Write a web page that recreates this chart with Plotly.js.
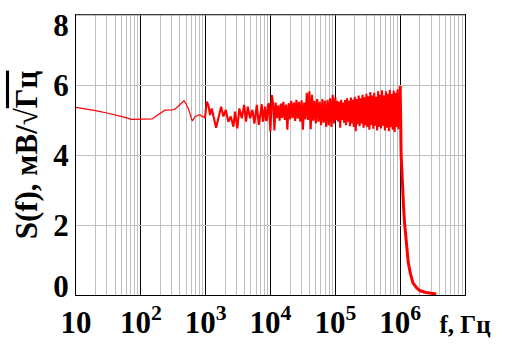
<!DOCTYPE html>
<html><head><meta charset="utf-8">
<script src="https://cdn.plot.ly/plotly-3.0.1.min.js"></script>
<style>html,body{margin:0;padding:0;background:#fff}</style>
</head><body><div id="chart" style="width:509px;height:348px"></div>
<script>
// smooth low-frequency part
const lowFreq = [10,15,20,30,40,55,72,100,150,175,200,235,300,330,370,420,464,500,540,580,623,690,750,816,870,915,975];
const lowVal  = [5.36,5.31,5.27,5.20,5.15,5.08,5.02,5.02,5.03,5.12,5.19,5.28,5.29,5.30,5.38,5.47,5.55,5.45,5.33,5.15,4.97,5.10,5.12,5.15,5.10,5.10,5.05];
// 1 kHz .. 10 kHz
const kFreq = [1040,1100,1170,1240,1350,1450,1570,1730,1880,2040,2240,2440,2680,2840,3080,3310,3610,3920,4200,4460,4840,5260,5650,6150,6600,7080,7350,7600,8000,8250,8500,8770,9100,9420,9700,9960];
const kVal  = [5.52,5.43,5.14,5.33,5.00,4.78,5.05,5.38,5.10,5.29,4.95,5.10,4.81,5.24,4.76,5.33,5.05,5.43,4.95,5.38,5.05,5.29,4.90,5.43,4.86,5.19,5.45,4.95,5.30,5.38,4.98,5.00,5.42,5.48,5.02,4.67];
// 10 kHz .. 100 kHz
const tenkFreq = [10.5e3,11.0e3,11.5e3,12.0e3,12.6e3,13.2e3,13.8e3,14.5e3,15.1e3,15.8e3,16.6e3,17.4e3,18.2e3,19.1e3,20.0e3,20.9e3,21.9e3,22.9e3,24.0e3,25.1e3,26.3e3,27.5e3,28.8e3,30.2e3,31.6e3,33.1e3,34.7e3,36.3e3,38.0e3,39.8e3,41.7e3,43.7e3,45.7e3,47.9e3,50.1e3,52.5e3,55.0e3,57.5e3,60.3e3,63.1e3,66.1e3,69.2e3,72.4e3,75.9e3,79.4e3,83.2e3,87.1e3,91.2e3,95.5e3,100e3];
const tenkVal  = [5.71,5.45,4.70,5.50,5.05,5.42,4.98,5.47,5.06,5.52,5.00,5.44,4.72,5.48,5.02,5.55,5.05,5.50,4.97,5.58,5.04,5.52,4.95,5.56,4.72,5.50,5.02,5.78,5.00,5.82,4.74,5.72,4.98,5.55,4.90,5.60,4.95,5.52,4.85,5.60,4.92,5.55,4.80,5.58,4.85,5.62,4.80,5.72,4.90,5.65];
// 100 kHz .. 1 MHz
const hkFreq = [103.5e3,107.2e3,110.9e3,114.8e3,118.9e3,123.0e3,127.4e3,131.8e3,136.5e3,141.3e3,146.2e3,151.4e3,156.7e3,162.2e3,167.9e3,173.8e3,179.9e3,186.2e3,192.8e3,199.5e3,206.5e3,213.8e3,221.3e3,229.1e3,237.1e3,245.5e3,254.1e3,263.0e3,272.3e3,281.8e3,291.7e3,302.0e3,312.6e3,323.6e3,335.0e3,346.7e3,358.9e3,371.5e3,384.6e3,398.1e3,412.1e3,426.6e3,441.6e3,457.1e3,473.2e3,489.8e3,507.0e3,524.8e3,543.3e3,562.3e3,582.1e3,602.6e3,623.8e3,645.7e3,668.3e3,691.8e3,716.1e3,741.3e3,767.4e3,794.3e3,822.2e3,851.1e3,881.0e3,912.0e3,944.1e3,977.2e3,1000e3];
const hkVal  = [5.00,5.55,4.95,5.52,4.78,5.58,5.00,5.50,4.92,5.57,4.85,5.62,4.95,5.55,4.82,5.64,4.90,5.58,4.80,5.66,4.68,5.60,4.88,5.70,4.82,5.62,4.90,5.72,4.78,5.65,4.85,5.75,4.80,5.68,4.72,5.80,4.86,5.70,4.75,5.78,4.84,5.66,4.70,5.82,4.80,5.72,4.76,5.85,4.84,5.70,4.70,5.82,4.78,5.75,4.68,5.86,4.80,5.74,4.72,5.84,4.66,5.78,4.80,5.88,4.74,5.80,5.97];
// roll-off above 1 MHz
const dropFreq = [1.01e6,1.02e6,1.035e6,1.06e6,1.08e6,1.13e6,1.17e6,1.24e6,1.33e6,1.43e6,1.58e6,1.8e6,2.03e6,2.5e6,2.9e6,3.6e6];
const dropVal  = [4.80,4.30,4.00,3.60,3.20,2.50,2.05,1.57,0.94,0.63,0.34,0.20,0.12,0.07,0.05,0.03];

const xTickVals = [10,100,1e3,1e4,1e5,1e6,1e7];
const xTickText = ['10','10<sup>2</sup>','10<sup>3</sup>','10<sup>4</sup>','10<sup>5</sup>','10<sup>6</sup>','<span style="font-size:25px">f, Гц</span>'];
const yLabelVals = [0.26,2,4,6,7.71];
const yLabelText = ['0','2','4','6','8'];

const noiseFreq = [lowFreq[lowFreq.length-1]].concat(kFreq, tenkFreq, hkFreq);
const noiseVal  = [lowVal[lowVal.length-1]].concat(kVal, tenkVal, hkVal);
const rollFreq = [hkFreq[hkFreq.length-1]].concat(dropFreq);
const rollVal  = [hkVal[hkVal.length-1]].concat(dropVal);

const red = '#ff0000';
const serif = 'Liberation Serif';
const data = [
  {x: lowFreq, y: lowVal, type:'scatter', mode:'lines', line:{color:red, width:1.2}, hoverinfo:'skip'},
  {x: noiseFreq, y: noiseVal, type:'scatter', mode:'lines', line:{color:red, width:2.1}, hoverinfo:'skip'},
  {x: rollFreq, y: rollVal, type:'scatter', mode:'lines', yaxis:'y2', line:{color:red, width:3}, hoverinfo:'skip'}
];
const tickFont = {family:serif, size:31, weight:'bold', color:'#000'};
const layout = {
  width:509, height:348,
  margin:{l:76, r:44, t:15, b:53},
  paper_bgcolor:'#fff', plot_bgcolor:'#fff',
  showlegend:false,
  xaxis:{type:'log', range:[1,7], tickmode:'array', tickvals:xTickVals, ticktext:xTickText,
    tickfont:tickFont, ticks:'', showgrid:true, gridcolor:'#000', gridwidth:1,
    minor:{dtick:'D1', showgrid:true, gridcolor:'#c0c0c0', gridwidth:1, ticks:''},
    showline:true, linecolor:'#000', linewidth:1, mirror:true, zeroline:false, fixedrange:true},
  yaxis:{range:[0,8], tickmode:'array', tickvals:yLabelVals, ticktext:yLabelText, tickfont:tickFont,
    ticks:'', showgrid:false, zeroline:false, showline:true, linecolor:'#000', linewidth:1, mirror:true,
    title:{text:'S(f), мB/√<span style="text-decoration:overline">Гц</span>', font:{family:serif, size:31, weight:'bold', color:'#000'}, standoff:6},
    fixedrange:true},
  yaxis2:{overlaying:'y', range:[0,8], tickmode:'array', tickvals:[2,4,6], showticklabels:false, ticks:'',
    showgrid:true, gridcolor:'#c0c0c0', gridwidth:1, zeroline:false, showline:false, fixedrange:true},
  shapes:[{type:'line', xref:'paper', yref:'paper', x0:0, x1:1, y0:1, y1:1, line:{color:'#7a857a', width:1}}]
};
Plotly.newPlot('chart', data, layout, {staticPlot:true, displayModeBar:false});
</script></body></html>
